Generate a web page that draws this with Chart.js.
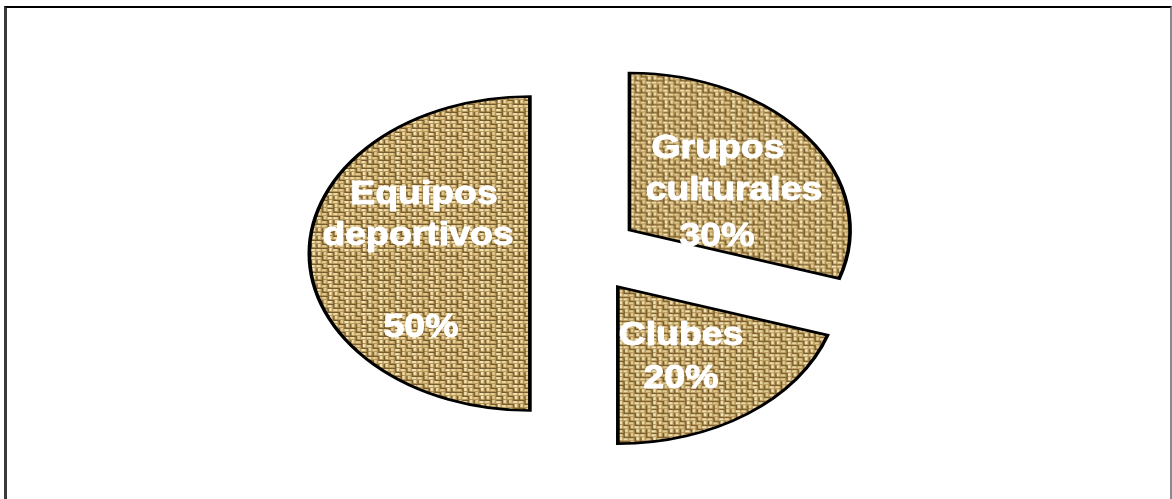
<!DOCTYPE html>
<html><head><meta charset="utf-8">
<script src="https://cdn.jsdelivr.net/npm/chart.js@4/dist/chart.umd.min.js"></script>
<style>
html,body{margin:0;padding:0;background:#fff;overflow:hidden}
#wrap{position:relative;width:1172px;height:499px}
#frame{position:absolute;left:4px;top:6px;width:1168px;height:510px;border-left:3px solid #3a3a3a;border-top:2px solid #000;border-right:2px solid #8a8a8a;box-sizing:border-box}
canvas{position:absolute;left:0;top:0}
</style></head><body>
<div id="wrap"><div id="frame"></div><canvas id="c" width="1172" height="499"></canvas></div>
<script>
// ---- data ----
const categories = ['Grupos culturales', 'Clubes', 'Equipos deportivos'];
const percentages = [30, 20, 50];

// ---- style ----
const SX = 1.405;                 // horizontal stretch of the pie (ellipse)
const explode = [40, 41, 38.5];   // slice displacement (px, before stretch)
const labelLayout = [
  {lines: [{x: 718, y: 158}, {x: 734, y: 200}, {x: 717, y: 246}]},
  {lines: [{x: 681, y: 345}, {x: 681, y: 388}]},
  {lines: [{x: 424, y: 204}, {x: 418, y: 245}, null, {x: 421, y: 337}]}
];
// weave map: 1 = horizontal thread on top, 0 = vertical thread on top
const weave = [
  [1, 0, 1, 1, 0, 1],
  [0, 1, 0, 0, 1, 0],
  [1, 1, 0, 1, 0, 1],
  [0, 0, 1, 0, 1, 0],
  [1, 0, 1, 0, 0, 1],
  [0, 1, 0, 1, 1, 0]
];

function makeBurlap() {
  const cell = 4, N = weave.length, T = cell * N;
  const c = document.createElement('canvas');
  c.width = T; c.height = T;
  const g = c.getContext('2d');
  g.fillStyle = '#765a2c'; g.fillRect(0, 0, T, T);
  for (let j = 0; j < N; j++) {
    for (let i = 0; i < N; i++) {
      const x = i * cell, y = j * cell;
      const shade = (i * 7 + j * 3) % 3;
      const light = ['#ecd9a2', '#e2cb8e', '#f1e3b3'][shade];
      if (weave[j][i]) {
        g.fillStyle = '#b8975a'; g.fillRect(x, y + 1, cell, 3);
        g.fillStyle = light; g.fillRect(x, y + 1, cell - 1, 2);
      } else {
        g.fillStyle = '#b39256'; g.fillRect(x + 1, y, 3, cell);
        g.fillStyle = light; g.fillRect(x + 1, y, 2, cell - 1);
      }
    }
  }
  return g.createPattern(c, 'repeat');
}

const burlap = makeBurlap();

const explodePlugin = {
  id: 'explode',
  beforeDatasetsDraw(chart) {
    const meta = chart.getDatasetMeta(0);
    meta.data.forEach((el, i) => {
      if (!el._wrapped) {
        const base = Chart.ArcElement.prototype.draw;
        el.draw = function (ctx) {
          const mid = (this.startAngle + this.endAngle) / 2;
          const d = explode[i] || 0;
          ctx.save();
          ctx.translate(Math.cos(mid) * d, Math.sin(mid) * d);
          base.call(this, ctx);
          ctx.restore();
        };
        el._wrapped = true;
      }
    });
    const cx = meta.data[0].x;
    const ctx = chart.ctx;
    ctx.save();
    ctx.translate(cx, 0);
    ctx.scale(SX, 1);
    ctx.translate(-cx, 0);
  },
  afterDatasetsDraw(chart) {
    chart.ctx.restore();
  }
};

const labelPlugin = {
  id: 'sliceLabels',
  afterDraw(chart) {
    const ctx = chart.ctx;
    ctx.save();
    ctx.fillStyle = '#ffffff';
    ctx.strokeStyle = '#ffffff';
    ctx.lineWidth = 1;
    ctx.lineJoin = 'round';
    ctx.font = 'bold 34px "Liberation Sans", Arial, sans-serif';
    ctx.textAlign = 'center';
    ctx.textBaseline = 'alphabetic';
    categories.forEach((cat, i) => {
      const words = cat.split(' ');
      const texts = words.slice();
      if (labelLayout[i].lines.length > words.length + 1) texts.push('');
      texts.push(percentages[i] + '%');
      texts.forEach((t, k) => {
        const p = labelLayout[i].lines[k];
        if (!p || !t) return;
        ctx.save();
        ctx.translate(p.x, p.y);
        ctx.scale(1.1, 1);
        ctx.fillText(t, 0, 0);
        ctx.strokeText(t, 0, 0);
        ctx.restore();
      });
    });
    ctx.restore();
  }
};

new Chart(document.getElementById('c'), {
  type: 'pie',
  data: {
    labels: categories,
    datasets: [{
      data: percentages,
      backgroundColor: burlap,
      borderColor: '#000000',
      borderWidth: 2.6,
      borderJoinStyle: 'miter',
      offset: 0,
      hoverOffset: 0
    }]
  },
  options: {
    responsive: false,
    animation: false,
    events: [],
    radius: 157,
    layout: {padding: {left: 0, right: 4, top: 8, bottom: 0}},
    plugins: {legend: {display: false}, tooltip: {enabled: false}}
  },
  plugins: [explodePlugin, labelPlugin]
});
</script>
</body></html>
